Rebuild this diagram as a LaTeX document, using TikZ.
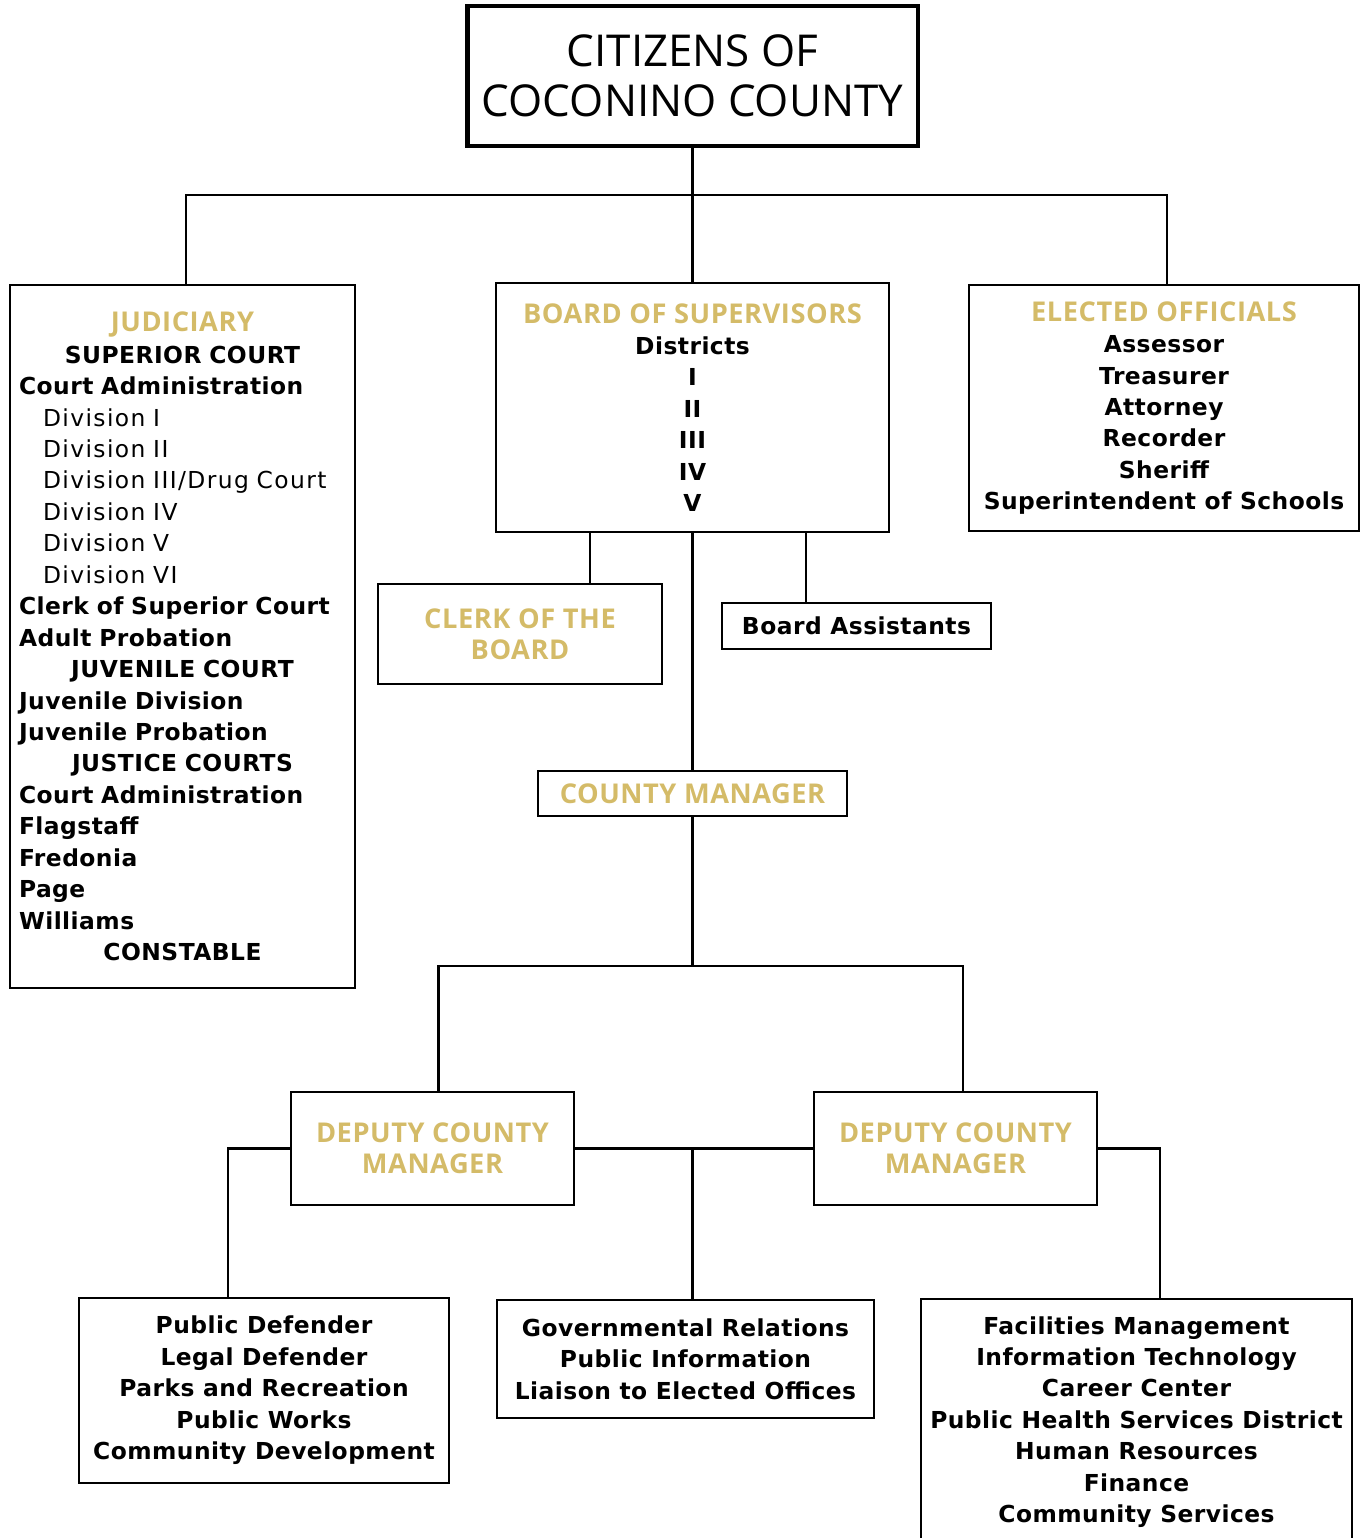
\documentclass[tikz,border=0pt]{standalone}
\usepackage{fontspec}
\setmainfont[LetterSpace=2]{DejaVu Sans}
\newfontfamily\headfont{Open Sans}
\newfontfamily\goldfont[LetterSpace=2]{Open Sans}
\newfontfamily\plainfont[LetterSpace=6]{DejaVu Sans}
\definecolor{gold}{RGB}{212,187,104}
\tikzset{>=stealth}
\tikzset{
  unit/.style={draw, line width=1.4pt, align=center, inner sep=0pt,
    font=\bfseries\fontsize{13.3}{17.9}\selectfont},
  citizens/.style={unit, line width=2.8pt, font=\headfont\fontsize{25}{28.5}\selectfont},
  link/.style={line width=1.2pt},
}
\newcommand{\gold}[1]{{\goldfont\fontsize{15.5}{17.9}\selectfont\color{gold}#1}}
\newcommand{\midline}[1]{\makebox[6.54cm]{#1}}
\newcommand{\divline}[1]{\hspace*{0.48cm}{\plainfont\mdseries #1}}

\begin{document}
\begin{tikzpicture}[x=0.02cm, y=-0.02cm]
    \useasboundingbox (0,0) rectangle (1362,1538);
    % top of the chart
    \node [citizens, minimum width=9.02cm, minimum height=2.8cm] (citizens) at (692.5,76)
        {CITIZENS OF\\COCONINO COUNTY};
    \node [unit, align=left, text width=6.54cm, inner xsep=0.18cm, minimum height=14.06cm] (judiciary) at (182.5,636.5) {%
        \midline{\gold{JUDICIARY}}\\
        \midline{SUPERIOR COURT}\\
        Court Administration\\
        \divline{Division I}\\
        \divline{Division II}\\
        \divline{Division III/Drug Court}\\
        \divline{Division IV}\\
        \divline{Division V}\\
        \divline{Division VI}\\
        Clerk of Superior Court\\
        Adult Probation\\
        \midline{JUVENILE COURT}\\
        Juvenile Division\\
        Juvenile Probation\\
        \midline{JUSTICE COURTS}\\
        Court Administration\\
        Flagstaff\\
        Fredonia\\
        Page\\
        Williams\\
        \midline{CONSTABLE}};
    \node [unit, minimum width=7.86cm, minimum height=4.98cm] (board) at (692.5,407.5)
        {\gold{BOARD OF SUPERVISORS}\\Districts\\I\\II\\III\\IV\\V};
    \node [unit, minimum width=7.8cm, minimum height=4.92cm] (elected) at (1164,408)
        {\gold{ELECTED OFFICIALS}\\Assessor\\Treasurer\\Attorney\\Recorder\\Sheriff\\Superintendent of Schools};
    \node [unit, minimum width=5.68cm, minimum height=2cm] (clerk) at (520,634)
        {\gold{CLERK OF THE}\\\gold{BOARD}};
    \node [unit, minimum width=5.38cm, minimum height=0.92cm] (assistants) at (856.5,626)
        {Board Assistants};
    \node [unit, minimum width=6.18cm, minimum height=0.9cm] (manager) at (692.5,793.5)
        {\gold{COUNTY MANAGER}};
    \node [unit, minimum width=5.66cm, minimum height=2.26cm] (deputyL) at (432.5,1148.5)
        {\gold{DEPUTY COUNTY}\\\gold{MANAGER}};
    \node [unit, minimum width=5.66cm, minimum height=2.26cm] (deputyR) at (955.5,1148.5)
        {\gold{DEPUTY COUNTY}\\\gold{MANAGER}};
    \node [unit, minimum width=7.4cm, minimum height=3.7cm] (deptL) at (264,1390.5)
        {Public Defender\\Legal Defender\\Parks and Recreation\\Public Works\\Community Development};
    \node [unit, minimum width=7.54cm, minimum height=2.36cm] (deptM) at (685.5,1359)
        {Governmental Relations\\Public Information\\Liaison to Elected Offices};
    \node [unit, minimum width=8.62cm, minimum height=4.92cm] (deptR) at (1136.5,1422)
        {Facilities Management\\Information Technology\\Career Center\\Public Health Services District\\Human Resources\\Finance\\Community Services};

    % connectors
    \coordinate (bar) at (692.5,195);
    \coordinate (tapA) at (590,0);
    \coordinate (tapB) at (806,0);
    \coordinate (split) at (692.5,966);
    \coordinate (join) at (692.5,1149);
    \coordinate (colL) at (228,0);
    \coordinate (colR) at (1160,0);
    \draw [link] (citizens.south) -- (board.north);
    \draw [link] ([xshift=0.07cm]judiciary.north) |- (bar) -| ([xshift=0.06cm]elected.north);
    \draw [link] (board.south -| tapA) -- (clerk.north -| tapA);
    \draw [link] (board.south -| tapB) -- (assistants.north -| tapB);
    \draw [link] (board.south) -- (manager.north);
    \draw [link] (manager.south) -- (split);
    \draw [link] ([xshift=0.12cm]deputyL.north) |- (split) -| ([xshift=0.15cm]deputyR.north);
    \draw [link] (deputyL.east) -- (deputyR.west);
    \draw [link] (join) -- (deptM.north -| join);
    \draw [link] (deputyL.west) -| (deptL.north -| colL);
    \draw [link] (deputyR.east) -| (deptR.north -| colR);
\end{tikzpicture}
\end{document}
